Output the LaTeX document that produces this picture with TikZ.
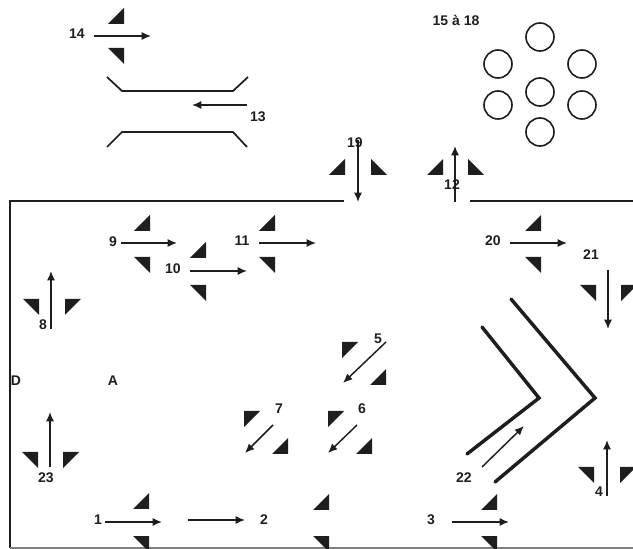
\documentclass[tikz,border=0pt]{standalone}
\usepackage{fontspec}
\setmainfont{Liberation Sans}
\usetikzlibrary{arrows.meta}
\definecolor{inkclr}{HTML}{1E1E1E}

\begin{document}
\begin{tikzpicture}[
  x=0.75pt, y=-0.75pt,
  every node/.style={font=\bfseries\fontsize{10.5}{11}\selectfont, text=inkclr, inner sep=0pt},
  arr/.style={-{Latex[length=7pt,width=6pt]}, draw=inkclr, line width=1.1pt},
  wall/.style={draw=inkclr, line width=1.5pt},
  guide/.style={draw=inkclr, line width=2.6pt, line cap=round},
  nozzle/.style={draw=inkclr, line width=1.3pt},
  tube/.style={draw=inkclr, line width=1.2pt},
  tri/.style={fill=inkclr}
]
  \useasboundingbox (0,0) rectangle (633,549);

  % walls of the room
  \draw[wall] (344,201) -- (9.5,201) -- (9.5,548);
  \draw[wall] (470,201) -- (633,201);
  \draw[draw=gray, line width=1pt] (10,548) -- (633,548);

  % nozzle and tube bundle
  \draw[nozzle] (107,77) -- (122,91) -- (233,91) -- (248,77);
  \draw[nozzle] (107,147) -- (122,132) -- (233,132) -- (247,147);
  \foreach \x/\y in {540/37, 498/64, 582/64, 540/92, 498/105, 582/105, 540/132}
    \draw[tube] (\x,\y) circle (14);

  % chevrons
  \draw[guide] (482,327) -- (539,398) -- (467,454);
  \draw[guide] (511,299) -- (595,398) -- (495,482);

  % triangles, by corner of the right angle
  \foreach \x/\y in {124/24, 150/231, 206/258, 275/231, 345/175, 443/175, 541/231,
                     386/385, 288/454, 372/454, 149/509, 329/510, 497/510}
    \fill[tri] (\x,\y) -- ++(-16,0) -- ++(16,-16) -- cycle;
  \foreach \x/\y in {124/48, 150/257, 206/285, 275/257, 39/299, 38/452, 596/285,
                     594/467, 149/536, 329/536, 497/536, 541/257}
    \fill[tri] (\x,\y) -- ++(-16,0) -- ++(16,16) -- cycle;
  \foreach \x/\y in {65/299, 63/452, 621/285, 620/467, 342/342, 244/411, 328/411}
    \fill[tri] (\x,\y) -- ++(16,0) -- ++(-16,16) -- cycle;
  \foreach \x/\y in {371/175, 468/175}
    \fill[tri] (\x,\y) -- ++(16,0) -- ++(-16,-16) -- cycle;

  % flow arrows
  \draw[arr] (94,36) -- (151,36);
  \draw[arr] (247,105) -- (192,105);
  \draw[arr] (121,243) -- (177,243);
  \draw[arr] (190,271) -- (247,271);
  \draw[arr] (259,243) -- (316,243);
  \draw[arr] (51,329) -- (51,271);
  \draw[arr] (358,140) -- (358,202);
  \draw[arr] (455,202) -- (455,146);
  \draw[arr] (510,243) -- (567,243);
  \draw[arr] (608,270) -- (608,329);
  \draw[arr] (386,342) -- (343,383);
  \draw[arr] (273,425) -- (245,453);
  \draw[arr] (357,425) -- (328,453);
  \draw[arr] (482,467) -- (524,426);
  \draw[arr] (607,496) -- (607,440);
  \draw[arr] (50,467) -- (50,412);
  \draw[arr] (105,522) -- (162,522);
  \draw[arr] (188,520) -- (245,520);
  \draw[arr] (452,522) -- (509,522);

  % labels
  \node (n14) at (77,34) {14};
  \node (n13) at (258,117) {13};
  \node (n15) at (456,20) {15 à 18};
  \node (n19) at (355,143) {19};
  \node (n12) at (452,185) {12};
  \node (n9)  at (113,242) {9};
  \node (n10) at (173,269) {10};
  \node (n11) at (242,241) {11};
  \node (n20) at (493,241) {20};
  \node (n21) at (591,255) {21};
  \node (n8)  at (43,325) {8};
  \node (n5)  at (378,339) {5};
  \node (n7)  at (279,409) {7};
  \node (n6)  at (362,409) {6};
  \node (nD)  at (16,381) {D};
  \node (nA)  at (113,381) {A};
  \node (n23) at (46,478) {23};
  \node (n22) at (464,478) {22};
  \node (n1)  at (98,520) {1};
  \node (n2)  at (264,520) {2};
  \node (n3)  at (431,520) {3};
  \node (n4)  at (599,492) {4};
\end{tikzpicture}
\end{document}
